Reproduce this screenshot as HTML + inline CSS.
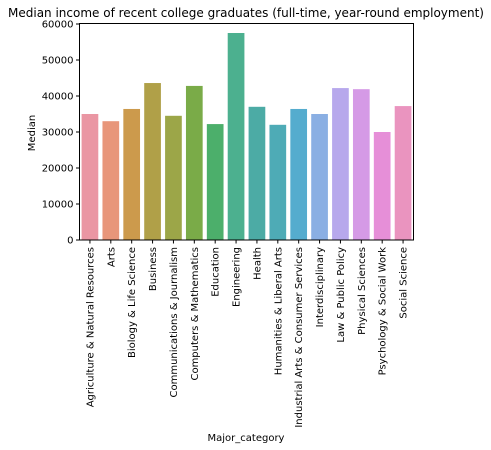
<!DOCTYPE html>
<html><head><meta charset="utf-8"><style>
html,body{margin:0;padding:0;background:#fff;width:491px;height:450px;overflow:hidden}
svg{display:block;font-family:"DejaVu Sans","Liberation Sans",sans-serif}
</style></head><body>
<svg id="chart" width="491" height="450" xmlns="http://www.w3.org/2000/svg">
<text x="246" y="17" text-anchor="middle" font-size="12" fill="#000">Median income of recent college graduates (full-time, year-round employment)</text>
<text transform="translate(35,133) rotate(-90)" text-anchor="middle" font-size="10" fill="#000">Median</text>
<text x="246" y="441" text-anchor="middle" font-size="10" fill="#000">Major_category</text>
<g id="bars"></g><g id="yticks"></g><g id="xticks"></g>
<rect x="79.5" y="23.5" width="334" height="216.5" fill="none" stroke="#000" stroke-width="1"/>
</svg>
<script>
const categories=["Agriculture & Natural Resources","Arts","Biology & Life Science","Business","Communications & Journalism","Computers & Mathematics","Education","Engineering","Health","Humanities & Liberal Arts","Industrial Arts & Consumer Services","Interdisciplinary","Law & Public Policy","Physical Sciences","Psychology & Social Work","Social Science"];
const medians=[35000,33000,36400,43600,34500,42800,32200,57500,37000,32000,36400,35000,42200,41900,30000,37200];
const yTicks=[0,10000,20000,30000,40000,50000,60000];
const colors=["#ea96a3","#e8967a","#cc9a4c","#b0a048","#9ca648","#7aab48","#4caf6b","#4cb08f","#4caba5","#4eabb6","#55acce","#8aafe3","#b7a8ec","#d59ae6","#e68fd8","#ea94bf"];
const L=79.5,R=413.5,T=24,B=240;
const y=v=>B-(v/60000)*(B-T);
const step=(R-L)/categories.length;
const x=i=>L+step*i;
const ns="http://www.w3.org/2000/svg";
const bars=document.getElementById('bars'),yt=document.getElementById('yticks'),xt=document.getElementById('xticks');
medians.forEach((v,i)=>{
 const r=document.createElementNS(ns,'rect');
 r.setAttribute('x',x(i)+step*0.1);r.setAttribute('width',step*0.8);
 r.setAttribute('y',y(v));r.setAttribute('height',B-y(v));r.setAttribute('fill',colors[i]);
 
 
 bars.appendChild(r);
 const cx=x(i)+step/2;
 const tk=document.createElementNS(ns,'line');
 tk.setAttribute('x1',cx);tk.setAttribute('x2',cx);tk.setAttribute('y1',B);tk.setAttribute('y2',B+3.5);tk.setAttribute('stroke','#000');
 
 
 xt.appendChild(tk);
 const t=document.createElementNS(ns,'text');
 t.setAttribute('transform','translate('+(cx+3.5)+','+(B+7)+') rotate(-90)');
 t.setAttribute('text-anchor','end');t.setAttribute('font-size','10');
 t.textContent=categories[i];
 
 
 xt.appendChild(t);
});
yTicks.forEach(v=>{
 const tk=document.createElementNS(ns,'line');
 tk.setAttribute('x1',L-3.5);tk.setAttribute('x2',L);tk.setAttribute('y1',y(v));tk.setAttribute('y2',y(v));tk.setAttribute('stroke','#000');
 
 
 yt.appendChild(tk);
 const t=document.createElementNS(ns,'text');
 t.setAttribute('x',L-6);t.setAttribute('y',y(v)+3.5);t.setAttribute('text-anchor','end');t.setAttribute('font-size','10');
 t.textContent=v;
 
 
 yt.appendChild(t);
});
</script>
</body></html>
